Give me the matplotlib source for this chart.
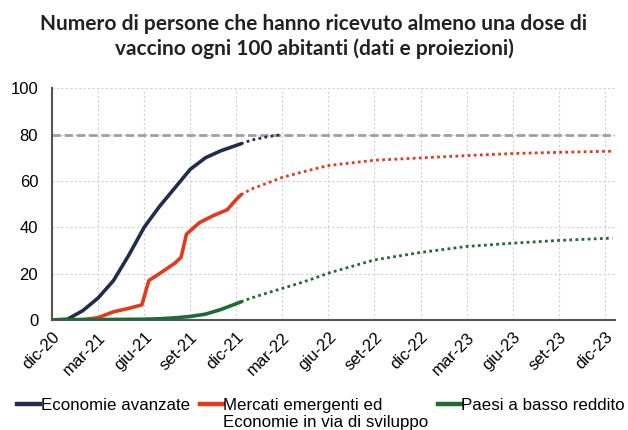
import numpy as np
import matplotlib
matplotlib.use('Agg')
import matplotlib.pyplot as plt
from matplotlib.lines import Line2D

# months since dic-20
tick_labels = ['dic-20', 'mar-21', 'giu-21', 'set-21', 'dic-21', 'mar-22', 'giu-22',
               'set-22', 'dic-22', 'mar-23', 'giu-23', 'set-23', 'dic-23']

# observed data (solid)
adv_x = [0, 1, 2, 3, 4, 5, 6, 7, 8, 9, 10, 11, 12, 12.3]
adv_y = [0, 0.3, 4, 9.5, 17, 28, 40, 49, 57, 65, 70, 73, 75.3, 76]
eme_x = [0, 1, 2, 2.5, 3, 4, 5, 5.85, 6.3, 7, 8, 8.4, 8.75, 9.6, 10.5, 11.4, 12, 12.3]
eme_y = [0, 0, 0.2, 0.5, 1, 3.5, 5, 6.5, 17, 20, 24.5, 27, 37, 42, 45, 47.5, 52, 54]
low_x = [0, 2, 4, 6, 7, 8, 9, 10, 11, 12, 12.3]
low_y = [0, 0.1, 0.2, 0.3, 0.5, 0.9, 1.5, 2.5, 4.5, 7, 7.8]

# projections (dotted)
adv_px = [12.3, 13, 14, 15]
adv_py = [76, 77.6, 79, 80]
eme_px = [12.3, 13, 14, 15, 16, 17, 18, 21, 24, 27, 30, 33, 36.5]
eme_py = [54, 56.5, 59, 61.5, 63.3, 65, 66.6, 68.9, 69.9, 70.9, 71.8, 72.3, 72.8]
low_px = [12.3, 13, 14, 15, 16, 17, 18, 21, 24, 27, 30, 33, 36.5]
low_py = [7.8, 9.5, 11.6, 13.6, 15.6, 17.8, 20.2, 25.9, 29.1, 31.7, 33.1, 34.3, 35.3]

target = 80

c_adv = '#1F2E4E'
c_eme = '#E5391E'
c_low = '#1E6B33'

plt.rcParams['font.family'] = ['Liberation Sans', 'DejaVu Sans']

fig = plt.figure(figsize=(6.28, 4.30), dpi=100)
ax = fig.add_axes([0.083, 0.256, 0.897, 0.539])

ax.axhline(target, color='#9f9f9f', lw=2, ls=(0, (3, 1.4)), zorder=1)

ax.plot(adv_x, adv_y, color=c_adv, lw=2.6, solid_capstyle='round', zorder=3)
ax.plot(eme_x, eme_y, color=c_eme, lw=2.6, solid_capstyle='round', zorder=3)
ax.plot(low_x, low_y, color=c_low, lw=2.6, solid_capstyle='round', zorder=3)

ax.plot(adv_px, adv_py, color=c_adv, lw=2, ls=(0, (1, 1.2)), zorder=2)
ax.plot(eme_px, eme_py, color=c_eme, lw=2, ls=(0, (1, 1.2)), zorder=2)
ax.plot(low_px, low_py, color=c_low, lw=2, ls=(0, (1, 1.2)), zorder=2)

ax.set_xlim(0, 36.7)
ax.set_ylim(0, 100)
ax.set_xticks(np.arange(0, 37, 3))
ax.set_xticklabels(tick_labels, rotation=45, ha='right', rotation_mode='anchor', fontsize=12)
ax.set_yticks([0, 20, 40, 60, 80, 100])
ax.tick_params(axis='y', labelsize=12, length=0, pad=10)
ax.tick_params(axis='x', length=0, pad=7)
ax.grid(True, color='#d0d0d0', lw=0.8, ls=(0, (2, 2)))
ax.set_axisbelow(True)
for s in ['top', 'right']:
    ax.spines[s].set_visible(False)
for s in ['left', 'bottom']:
    ax.spines[s].set_color('#555555')
    ax.spines[s].set_linewidth(1.5)

fig.text(0.5, 0.968, 'Numero di persone che hanno ricevuto almeno una dose di\nvaccino ogni 100 abitanti (dati e proiezioni)',
         ha='center', va='top', fontsize=15, fontweight='bold', family=['Lato', 'DejaVu Sans'],
         color='#222222', linespacing=1.3)

# legend: one entry per box so the columns sit where the reference puts them
entries = [('Economie avanzate', c_adv, 0.027),
           ('Mercati emergenti ed', c_eme, 0.318),
           ('Paesi a basso reddito', c_low, 0.697)]
legs = []
for label, col, xpos in entries:
    h = Line2D([], [], color=col, lw=3.2)
    lg = fig.legend([h], [label], loc='center left', bbox_to_anchor=(xpos, 0.058),
                    frameon=False, fontsize=12.2, handlelength=1.35, handletextpad=0.05,
                    borderaxespad=0, borderpad=0)
    legs.append(lg)

fig.canvas.draw()
bb = legs[1].get_texts()[0].get_window_extent()
fig.text(bb.x0 / fig.bbox.width, (bb.y0 - 2) / fig.bbox.height, 'Economie in via di sviluppo',
         ha='left', va='top', fontsize=12.2, color='black')

fig.savefig('out.png', dpi=100)
